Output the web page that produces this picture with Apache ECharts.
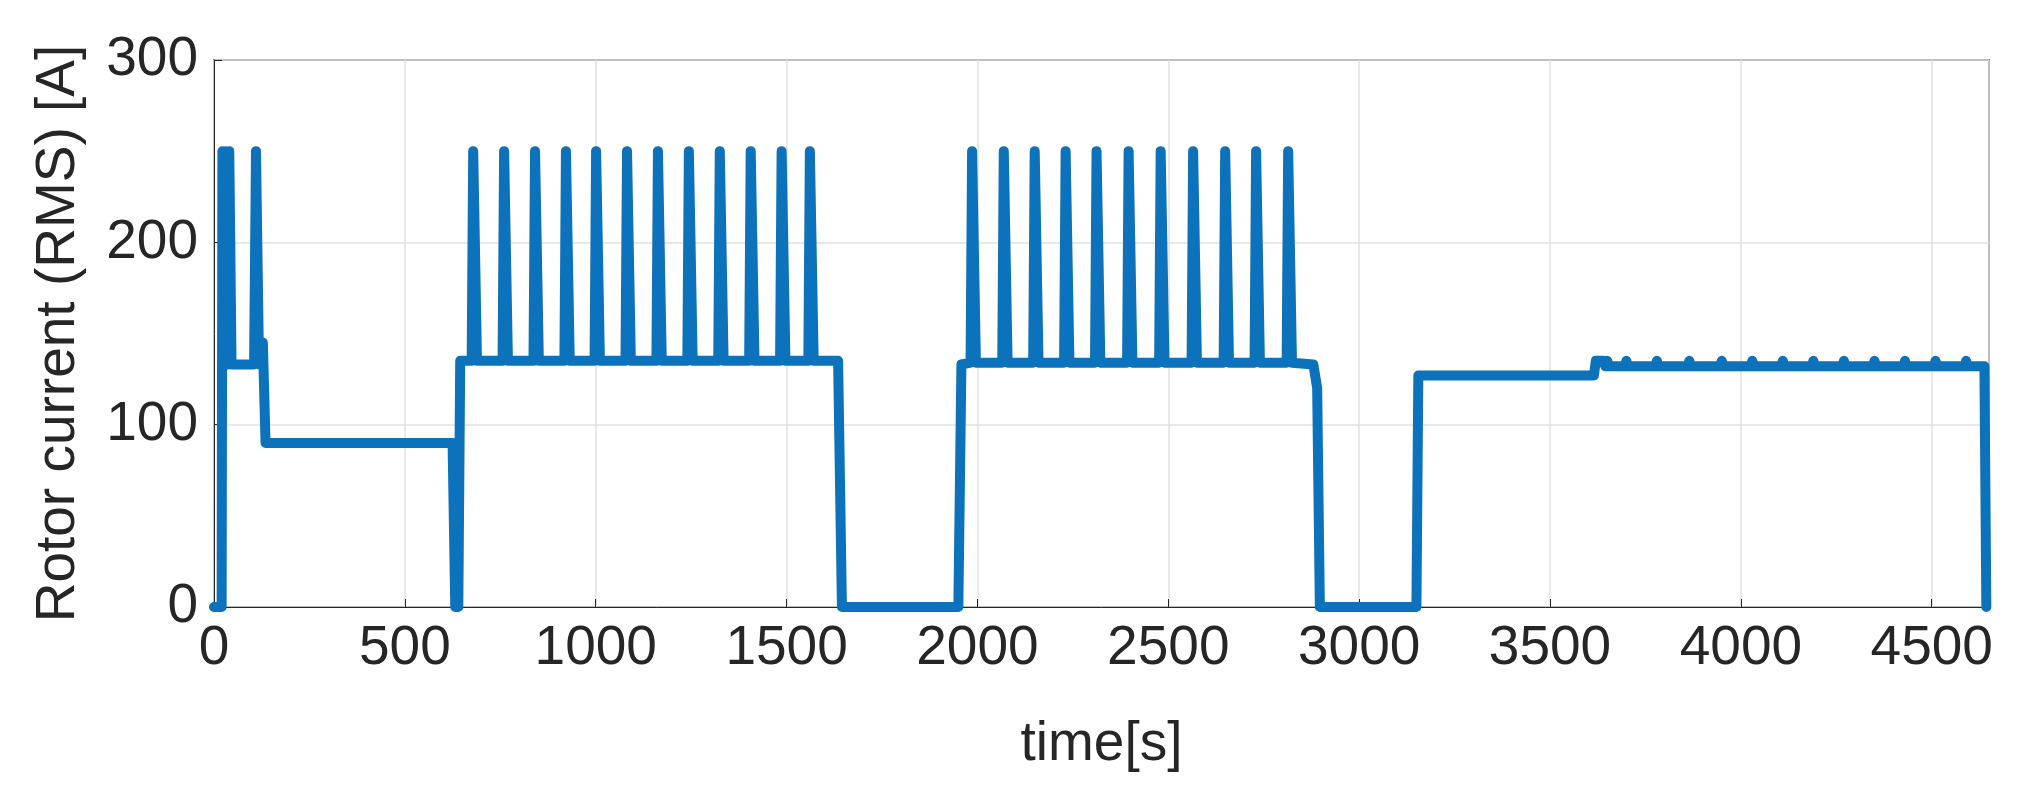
<!DOCTYPE html>
<html><head><meta charset="utf-8">
<script src="https://cdn.jsdelivr.net/npm/echarts@6/dist/echarts.min.js"></script>
<style>html,body{margin:0;background:#fff}#c{width:2018px;height:800px}</style>
</head><body><div id="c"></div>
<script>
const spikesA = [681, 762, 843, 924, 1003, 1084, 1165, 1246, 1327, 1408, 1489, 1563];
const spikesB = [1988, 2071, 2152, 2233, 2314, 2398, 2482, 2567, 2651, 2732, 2816];
const bumpsC = [3650, 3700, 3780, 3865, 3950, 4030, 4110, 4190, 4270, 4350, 4430, 4510, 4590];
const baseA = 135, baseB = 134, peak = 250;
const points = [
  [0,0],[20,0],[22,250],[26,133],[30,250],[36,133],[40,250],[46,133],[105,133],[110,250],[118,133],[122,145],[128,145],[135,90],[625,90],[632,0],[640,0],[645,135]
];
spikesA.forEach(t=>{points.push([t-6,baseA],[t-2,peak],[t+2,peak],[t+8,baseA]);});
points.push([1635,135],[1645,0],[1950,0],[1958,133]);
spikesB.forEach(t=>{points.push([t-6,baseB],[t-2,peak],[t+2,peak],[t+8,baseB]);});
points.push([2880,133],[2890,120],[2897,0],[3150,0],[3155,127],[3615,127],[3620,135],[3640,135],[3645,132]);
bumpsC.forEach(t=>{points.push([t-4,132],[t,135],[t+4,132]);});
points.push([4638,132],[4643,0]);
points.sort((a,b)=>a[0]-b[0]);
const c = echarts.init(document.getElementById('c'));
const ax = {fontSize:55,color:'#262626',fontFamily:'Liberation Sans'};
c.setOption({
  animation:false,
  grid:{left:214,right:29,top:60,bottom:193,show:true,borderColor:'#262626',borderWidth:1.5},
  xAxis:{type:'value',min:0,max:4650,interval:500,name:'time[s]',nameLocation:'middle',nameGap:110,
    nameTextStyle:{...ax},axisLabel:{...ax,margin:14,formatter:v=>v%500===0?v:''},
    axisLine:{lineStyle:{color:'#262626'}},axisTick:{inside:true,length:8,lineStyle:{color:'#262626'}},
    splitLine:{lineStyle:{color:'#e0e0e0',width:1.5}}},
  yAxis:{type:'value',min:0,max:300,interval:100,name:'Rotor current (RMS) [A]',nameLocation:'middle',nameGap:128,
    nameTextStyle:{...ax},axisLabel:{...ax,margin:16},
    axisLine:{show:true,lineStyle:{color:'#262626'}},axisTick:{show:true,inside:true,length:8,lineStyle:{color:'#262626'}},
    splitLine:{lineStyle:{color:'#e0e0e0',width:1.5}}},
  series:[{type:'line',data:points,showSymbol:false,lineStyle:{color:'#0b72bb',width:10,join:'round',cap:'round'}}]
});
</script></body></html>
